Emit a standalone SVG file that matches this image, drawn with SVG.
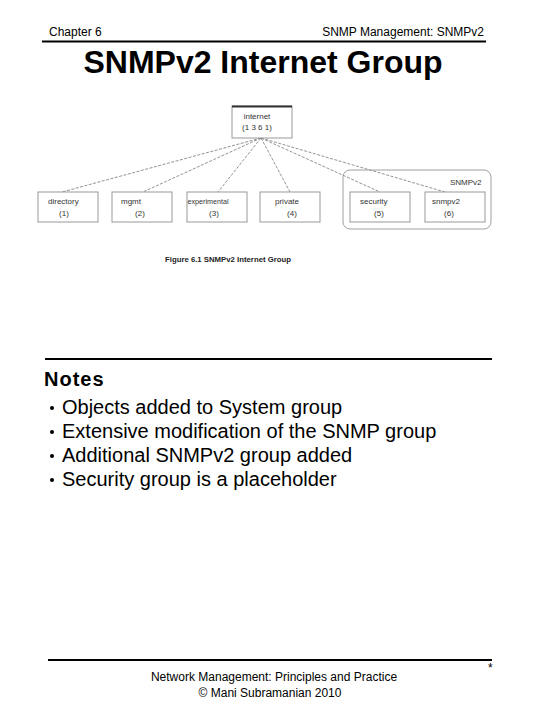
<svg xmlns="http://www.w3.org/2000/svg" width="540" height="720" viewBox="0 0 540 720">
<style>
.hdr{font-family:"Liberation Sans",Arial,sans-serif;font-size:12px;fill:#000}
.title{font-family:"Liberation Sans",Arial,sans-serif;font-size:32px;font-weight:bold;fill:#000}
.rule{stroke:#000;stroke-width:2}
.box{fill:#fff;stroke:#999;stroke-width:1}
.lbl{font-family:"Liberation Sans",Arial,sans-serif;font-size:8px;fill:#333}
.conn{stroke:#777;stroke-width:0.8;stroke-dasharray:3 1.5;fill:none}
.notes{font-family:"Liberation Sans",Arial,sans-serif;font-size:20px;fill:#000}
.bul{fill:#000}
.cap{font-family:"Liberation Sans",Arial,sans-serif;font-size:8px;font-weight:bold;fill:#222}
</style>
<rect width="540" height="720" fill="#fff"/>
<text class="hdr" x="49" y="36">Chapter 6</text>
<text class="hdr" x="484" y="36" text-anchor="end">SNMP Management:  SNMPv2</text>
<line class="rule" x1="42" y1="41.5" x2="486" y2="41.5"/>
<text class="title" x="263" y="73" text-anchor="middle">SNMPv2 Internet Group</text>

<g id="connectors">
<line class="conn" x1="261" y1="138" x2="62" y2="192"/>
<line class="conn" x1="261" y1="138" x2="143" y2="192"/>
<line class="conn" x1="261" y1="138" x2="218" y2="192"/>
<line class="conn" x1="261" y1="138" x2="290" y2="192"/>
<line class="conn" x1="261" y1="138" x2="380" y2="192"/>
<line class="conn" x1="261" y1="138" x2="445" y2="192"/>
</g>

<g id="snmpv2-group">
<rect x="343" y="170" width="148" height="59" rx="7" fill="none" stroke="#888" stroke-width="0.8"/>
<text class="lbl" x="450" y="185">SNMPv2</text>
</g>

<g id="internet">
<rect class="box" x="232" y="106" width="60" height="32" stroke="#666"/>
<line x1="232" y1="106.5" x2="292" y2="106.5" stroke="#333" stroke-width="2"/>
<text class="lbl" x="257" y="119" text-anchor="middle">internet</text>
<text class="lbl" x="257" y="130" text-anchor="middle">(1 3 6 1)</text>
</g>

<g id="directory">
<rect class="box" x="38" y="192" width="60" height="30"/>
<text class="lbl" x="48" y="204">directory</text>
<text class="lbl" x="64" y="216" text-anchor="middle">(1)</text>
</g>
<g id="mgmt">
<rect class="box" x="112" y="192" width="60" height="30"/>
<text class="lbl" x="121" y="204">mgmt</text>
<text class="lbl" x="140" y="216" text-anchor="middle">(2)</text>
</g>
<g id="experimental">
<rect class="box" x="187" y="192" width="60" height="30"/>
<text class="lbl" x="187.5" y="204" textLength="41" lengthAdjust="spacingAndGlyphs">experimental</text>
<text class="lbl" x="214" y="216" text-anchor="middle">(3)</text>
</g>
<g id="private">
<rect class="box" x="260" y="192" width="60" height="30"/>
<text class="lbl" x="275" y="204">private</text>
<text class="lbl" x="292" y="216" text-anchor="middle">(4)</text>
</g>
<g id="security">
<rect class="box" x="350" y="192" width="60" height="30"/>
<text class="lbl" x="360" y="204">security</text>
<text class="lbl" x="379" y="216" text-anchor="middle">(5)</text>
</g>
<g id="snmpv2">
<rect class="box" x="425" y="192" width="60" height="30"/>
<text class="lbl" x="432" y="204">snmpv2</text>
<text class="lbl" x="449" y="216" text-anchor="middle">(6)</text>
</g>

<text class="cap" x="165" y="262" textLength="126" lengthAdjust="spacingAndGlyphs">Figure 6.1  SNMPv2 Internet Group</text>

<line class="rule" x1="45" y1="359" x2="492" y2="359"/>
<text class="notes" x="44" y="386" font-weight="bold" letter-spacing="1">Notes</text>
<circle class="bul" cx="52" cy="408" r="2"/>
<text class="notes" x="62" y="414">Objects added to System group</text>
<circle class="bul" cx="52" cy="432" r="2"/>
<text class="notes" x="62" y="438">Extensive modification of the SNMP group</text>
<circle class="bul" cx="52" cy="456" r="2"/>
<text class="notes" x="62" y="462">Additional SNMPv2 group added</text>
<circle class="bul" cx="52" cy="480" r="2"/>
<text class="notes" x="62" y="486">Security group is a placeholder</text>

<line class="rule" x1="48" y1="660" x2="492" y2="660"/>
<text class="hdr" x="488" y="672" font-size="11">*</text>
<text class="hdr" x="274" y="681" text-anchor="middle">Network Management: Principles and Practice</text>
<text class="hdr" x="270" y="697" text-anchor="middle">©  Mani Subramanian 2010</text>
</svg>
